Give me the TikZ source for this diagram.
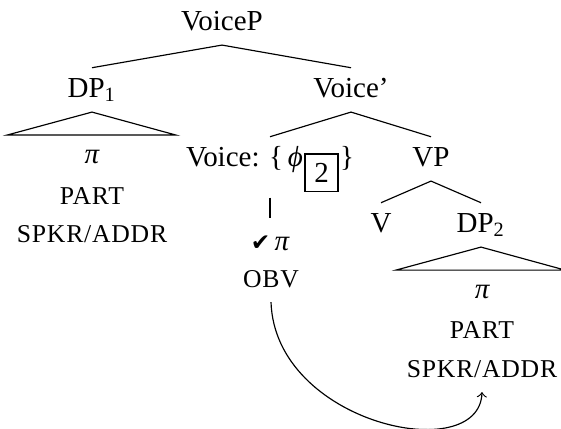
\documentclass[tikz,border=0pt]{standalone}
\usepackage{fontspec}
\setmainfont{Liberation Serif}
\newfontfamily\scfont[LetterSpace=3]{Liberation Serif}
\newfontfamily\symfont{DejaVu Sans}
\newcommand\smc[1]{{\scfont\fontsize{8.86}{10}\selectfont #1}}
\newcommand\gk[1]{{\itshape #1}}
\begin{document}
\begin{tikzpicture}[x=0.345pt,y=-0.345pt,
  lbl/.style={anchor=base,inner xsep=0pt,inner ysep=3pt,text height=6.9pt,text depth=2pt,font=\fontsize{10}{12}\selectfont},
  branch/.style={line width=0.4pt},
  roof/.style={line width=0.4pt,line join=miter}]
  \useasboundingbox (0,0) rectangle (561,428);

  % category labels
  \node[lbl] (voicep)   at (222,30)  {VoiceP};
  \node[lbl] (dp1)      at (92,97)   {DP\textsubscript{1}};
  \node[lbl] (voicebar) at (351,97)  {Voice'};
  \node[lbl,text depth=7.7pt] (voice) at (270,166)
    {Voice: \{\,\gk{ϕ}\kern0.5pt\raisebox{-5.7pt}{\fbox{2}}\kern0.5pt\}};
  \node[lbl] (vp)       at (431,166) {VP};
  \node[lbl] (v)        at (381,232) {V};
  \node[lbl] (dp2)      at (481,232) {DP\textsubscript{2}};

  % features under the Voice head
  \node[lbl,text height=8pt] (chk) at (270,250)
    {{\symfont\fontsize{8}{10}\selectfont ✔}\kern1.5pt\gk{π}};
  \node[lbl] (obv) at (271,287) {\smc{OBV}};

  % features under DP1
  \node[lbl] (pi1)   at (92,163)  {\gk{π}};
  \node[lbl] (part1) at (92,204)  {\smc{PART}};
  \node[lbl] (spkr1) at (92,242)  {\smc{SPKR/ADDR}};

  % features under DP2
  \node[lbl] (pi2)   at (482,298) {\gk{π}};
  \node[lbl] (part2) at (482,338) {\smc{PART}};
  \node[lbl] (spkr2) at (482,377) {\smc{SPKR/ADDR}};

  % tree branches
  \draw[branch] (dp1.north) -- (voicep.south) -- (voicebar.north);
  \draw[branch] (voice.north) -- (voicebar.south) -- (vp.north);
  \draw[branch] (v.north) -- (vp.south) -- (dp2.north);
  \draw[branch] (voice.south) -- (chk.north);

  % roofs over the DP contents
  \draw[roof] (dp1.south) -- ++(-85,23) -- ++(169,0) -- cycle;
  \draw[roof] (dp2.south) -- ++(-85,23) -- ++(169,0) -- cycle;

  % agreement arrow
  \draw[branch,->] (obv.south) .. controls +(4,122) and +(-3,75) .. (spkr2.south);
\end{tikzpicture}
\end{document}
